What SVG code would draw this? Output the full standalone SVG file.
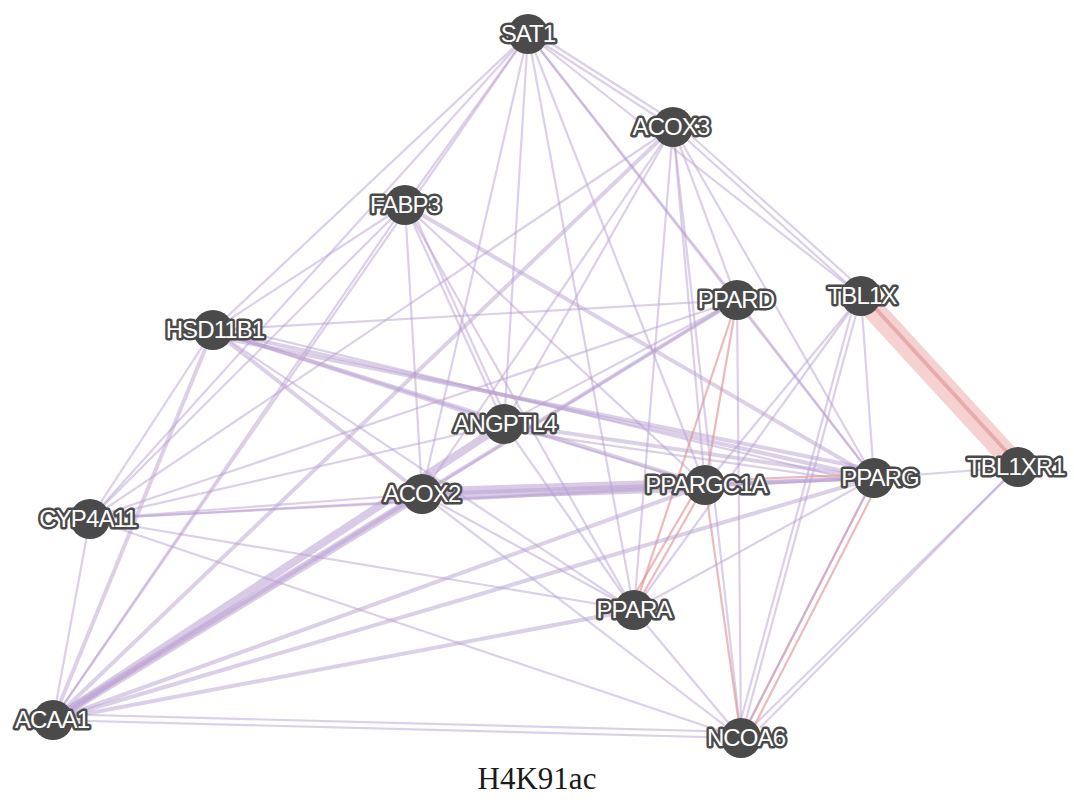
<svg xmlns="http://www.w3.org/2000/svg" width="1074" height="809" viewBox="0 0 1074 809">
  <style>
    .bg { fill: #ffffff; }
    line { stroke-linecap: butt; }
    .e { stroke: #b9a0d2; stroke-width: 2.2; stroke-opacity: 0.5; }
    .m { stroke: #b9a0d2; stroke-width: 4; stroke-opacity: 0.5; }
    .t { stroke: #b9a0d2; stroke-width: 8; stroke-opacity: 0.55; }
    .x { stroke: #b9a0d2; stroke-width: 13; stroke-opacity: 0.55; }
    .r { stroke: #e08c8c; stroke-width: 2.2; stroke-opacity: 0.6; }
    .R { stroke: #eba3a3; stroke-width: 22; stroke-opacity: 0.5; }
    .Ri { stroke: #d97d7d; stroke-width: 4; stroke-opacity: 0.45; }
    .node circle { fill: #4a4a4a; }
    .node text { font-family: "Liberation Sans", Arial, sans-serif; font-size: 24px; letter-spacing: -0.9px; fill: #ffffff; stroke: #4a4a4a; stroke-width: 5px; paint-order: stroke; stroke-linejoin: round; text-anchor: middle; }
    .caption { font-family: "Liberation Serif", "DejaVu Serif", serif; font-size: 31px; fill: #1a1a1a; text-anchor: middle; }
  </style>
  <rect class="bg" width="1074" height="809"/>

  <g id="connectors">
    <!-- SAT1 -->
    <line class="e" x1="528" y1="34" x2="405" y2="205"/>
    <line class="e" x1="528" y1="34" x2="213" y2="330"/>
    <line class="e" x1="528" y1="34" x2="90" y2="519"/>
    <line class="e" x1="528" y1="34" x2="53" y2="720"/>
    <line class="e" x1="528" y1="34" x2="504" y2="424"/>
    <line class="e" x1="528" y1="34" x2="422" y2="494"/>
    <line class="e" x1="528" y1="34" x2="673" y2="127"/>
    <line class="e" x1="530" y1="30" x2="675" y2="122"/>
    <line class="e" x1="528" y1="34" x2="737" y2="300"/>
    <line class="e" x1="528" y1="34" x2="861" y2="296"/>
    <line class="e" x1="528" y1="34" x2="874" y2="478"/>
    <line class="e" x1="528" y1="34" x2="705" y2="485"/>
    <line class="e" x1="528" y1="34" x2="634" y2="610"/>
    <!-- ACOX3 -->
    <line class="m" x1="673" y1="127" x2="53" y2="720"/>
    <line class="e" x1="673" y1="127" x2="422" y2="494"/>
    <line class="e" x1="673" y1="127" x2="504" y2="424"/>
    <line class="e" x1="673" y1="127" x2="90" y2="519"/>
    <line class="e" x1="673" y1="127" x2="737" y2="300"/>
    <line class="e" x1="673" y1="127" x2="861" y2="296"/>
    <line class="e" x1="676" y1="122" x2="864" y2="291"/>
    <line class="e" x1="673" y1="127" x2="874" y2="478"/>
    <line class="e" x1="673" y1="127" x2="705" y2="485"/>
    <line class="e" x1="673" y1="127" x2="634" y2="610"/>
    <line class="e" x1="673" y1="127" x2="741" y2="738"/>
    <!-- FABP3 -->
    <line class="e" x1="405" y1="205" x2="213" y2="330"/>
    <line class="e" x1="405" y1="205" x2="90" y2="519"/>
    <line class="e" x1="405" y1="205" x2="53" y2="720"/>
    <line class="e" x1="405" y1="205" x2="422" y2="494"/>
    <line class="e" x1="405" y1="205" x2="504" y2="424"/>
    <line class="e" x1="409" y1="203" x2="508" y2="422"/>
    <line class="m" x1="405" y1="205" x2="874" y2="478"/>
    <line class="e" x1="405" y1="205" x2="634" y2="610"/>
    <line class="e" x1="405" y1="205" x2="705" y2="485"/>
    <!-- HSD11B1 -->
    <line class="e" x1="213" y1="330" x2="90" y2="519"/>
    <line class="m" x1="213" y1="330" x2="53" y2="720"/>
    <line class="m" x1="213" y1="330" x2="504" y2="424"/>
    <line class="m" x1="213" y1="330" x2="422" y2="494"/>
    <line class="m" x1="213" y1="330" x2="874" y2="478"/>
    <line class="m" x1="213" y1="336" x2="874" y2="470"/>
    <line class="e" x1="213" y1="324" x2="874" y2="485"/>
    <line class="m" x1="213" y1="330" x2="705" y2="485"/>
    <line class="e" x1="213" y1="330" x2="634" y2="610"/>
    <line class="e" x1="213" y1="330" x2="737" y2="300"/>
    <!-- PPARD -->
    <line class="m" x1="737" y1="300" x2="53" y2="720"/>
    <line class="e" x1="737" y1="300" x2="422" y2="494"/>
    <line class="e" x1="737" y1="300" x2="504" y2="424"/>
    <line class="e" x1="737" y1="300" x2="90" y2="519"/>
    <line class="r" x1="737" y1="300" x2="634" y2="610"/>
    <line class="e" x1="737" y1="300" x2="741" y2="738"/>
    <line class="e" x1="737" y1="300" x2="874" y2="478"/>
    <line class="r" x1="737" y1="300" x2="705" y2="485"/>
    <!-- TBL1X -->
    <line class="R" x1="861" y1="296" x2="1018" y2="467"/>
    <line class="Ri" x1="866" y1="298" x2="1016" y2="462"/>
    <line class="e" x1="861" y1="296" x2="874" y2="478"/>
    <line class="e" x1="861" y1="296" x2="741" y2="738"/>
    <line class="e" x1="856" y1="296" x2="736" y2="738"/>
    <line class="e" x1="861" y1="296" x2="705" y2="485"/>
    <line class="e" x1="861" y1="296" x2="634" y2="610"/>
    <!-- TBL1XR1 -->
    <line class="e" x1="1018" y1="467" x2="741" y2="738"/>
    <line class="e" x1="1014" y1="470" x2="760" y2="728"/>
    <line class="e" x1="1018" y1="467" x2="874" y2="478"/>
    <!-- ANGPTL4 -->
    <line class="t" x1="504" y1="424" x2="53" y2="720"/>
    <line class="m" x1="504" y1="424" x2="874" y2="478"/>
    <line class="e" x1="504" y1="430" x2="874" y2="484"/>
    <line class="e" x1="504" y1="424" x2="634" y2="610"/>
    <line class="e" x1="504" y1="424" x2="90" y2="519"/>
    <line class="e" x1="504" y1="424" x2="705" y2="485"/>
    <!-- ACOX2 -->
    <line class="x" x1="422" y1="494" x2="705" y2="485"/>
    <line class="m" x1="422" y1="494" x2="874" y2="478"/>
    <line class="t" x1="422" y1="494" x2="53" y2="720"/>
    <line class="e" x1="422" y1="494" x2="90" y2="519"/>
    <line class="e" x1="422" y1="494" x2="634" y2="610"/>
    <line class="e" x1="422" y1="494" x2="741" y2="738"/>
    <!-- PPARGC1A -->
    <line class="m" x1="705" y1="485" x2="874" y2="478"/>
    <line class="r" x1="705" y1="481" x2="874" y2="474"/>
    <line class="r" x1="705" y1="485" x2="634" y2="610"/>
    <line class="r" x1="700" y1="483" x2="628" y2="606"/>
    <line class="r" x1="705" y1="485" x2="741" y2="738"/>
    <line class="m" x1="705" y1="485" x2="53" y2="720"/>
    <line class="e" x1="705" y1="485" x2="90" y2="519"/>
    <!-- PPARG -->
    <line class="r" x1="874" y1="478" x2="741" y2="738"/>
    <line class="r" x1="880" y1="480" x2="748" y2="738"/>
    <line class="e" x1="874" y1="478" x2="634" y2="610"/>
    <line class="m" x1="874" y1="478" x2="53" y2="720"/>
    <line class="e" x1="874" y1="478" x2="90" y2="519"/>
    <line class="e" x1="874" y1="478" x2="741" y2="738"/>
    <!-- PPARA -->
    <line class="e" x1="634" y1="610" x2="90" y2="519"/>
    <line class="m" x1="634" y1="610" x2="53" y2="720"/>
    <line class="e" x1="634" y1="610" x2="741" y2="738"/>
    <!-- NCOA6 / CYP4A11 -->
    <line class="e" x1="741" y1="738" x2="53" y2="720"/>
    <line class="e" x1="741" y1="732" x2="53" y2="714"/>
    <line class="e" x1="741" y1="738" x2="90" y2="519"/>
    <line class="e" x1="90" y1="519" x2="53" y2="720"/>
  </g>

  <g id="n-SAT1" class="node"><circle cx="528" cy="34" r="20"/><text x="528" y="42">SAT1</text></g>
  <g id="n-ACOX3" class="node"><circle cx="673" cy="127" r="20"/><text x="671" y="135">ACOX3</text></g>
  <g id="n-FABP3" class="node"><circle cx="405" cy="205" r="20"/><text x="405" y="213">FABP3</text></g>
  <g id="n-HSD11B1" class="node"><circle cx="213" cy="330" r="20"/><text x="215" y="338">HSD11B1</text></g>
  <g id="n-PPARD" class="node"><circle cx="737" cy="300" r="20"/><text x="736" y="308">PPARD</text></g>
  <g id="n-TBL1X" class="node"><circle cx="861" cy="296" r="20"/><text x="862" y="304">TBL1X</text></g>
  <g id="n-ANGPTL4" class="node"><circle cx="504" cy="424" r="20"/><text x="505" y="432">ANGPTL4</text></g>
  <g id="n-ACOX2" class="node"><circle cx="422" cy="494" r="20"/><text x="422" y="502">ACOX2</text></g>
  <g id="n-PPARGC1A" class="node"><circle cx="705" cy="485" r="20"/><text x="706" y="493">PPARGC1A</text></g>
  <g id="n-PPARG" class="node"><circle cx="874" cy="478" r="20"/><text x="880" y="486">PPARG</text></g>
  <g id="n-TBL1XR1" class="node"><circle cx="1018" cy="467" r="20"/><text x="1016" y="475">TBL1XR1</text></g>
  <g id="n-CYP4A11" class="node"><circle cx="90" cy="519" r="20"/><text x="88" y="527">CYP4A11</text></g>
  <g id="n-PPARA" class="node"><circle cx="634" cy="610" r="20"/><text x="634" y="618">PPARA</text></g>
  <g id="n-NCOA6" class="node"><circle cx="741" cy="738" r="20"/><text x="746" y="746">NCOA6</text></g>
  <g id="n-ACAA1" class="node"><circle cx="53" cy="720" r="20"/><text x="52" y="728">ACAA1</text></g>

  <text class="caption" x="537" y="789">H4K91ac</text>
</svg>
